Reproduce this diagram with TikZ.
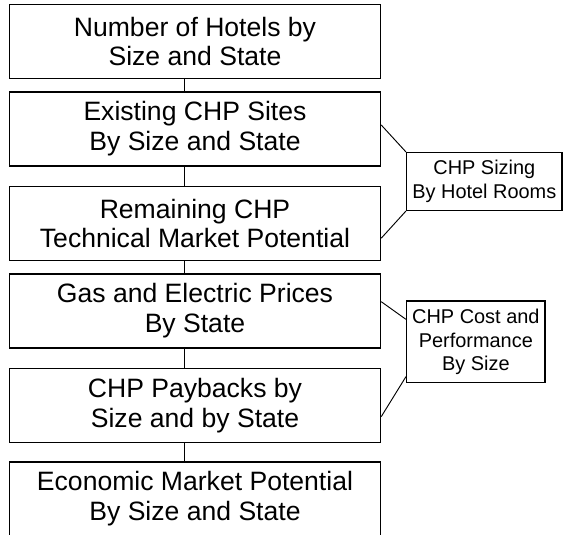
\documentclass[tikz,border=0pt]{standalone}
\usepackage{fontspec}
\setmainfont{Liberation Sans}
\usepackage{tikz}
\usetikzlibrary{positioning, calc}
\tikzset{
    box_step/.style={
        rectangle, draw=black, line width=1.1pt, fill=white,
        minimum width=9.816cm, minimum height=1.958cm, inner sep=0pt,
        align=center, font=\fontsize{20}{22.5}\selectfont
    },
    box_side/.style={
        rectangle, draw=black, line width=1.1pt, fill=white, inner sep=0pt,
        align=center, font=\fontsize{15}{17.6}\selectfont
    },
    link_line/.style={
        draw=black, line width=0.75pt
    },
    callout_line/.style={
        draw=black, line width=0.7pt
    }
}

\begin{document}
\begin{tikzpicture}
    \useasboundingbox (0,0) rectangle (14.896,-14.155);

    % Main column of steps, top to bottom
    \node[box_step] (hotels) at (5.159, -1.098) {Number of Hotels by\\Size and State};
    \node[box_step] (existing) at (5.159, -3.413) {Existing CHP Sites\\By Size and State};
    \node[box_step] (remaining) at (5.159, -5.913) {Remaining CHP\\Technical Market Potential};
    \node[box_step] (prices) at (5.159, -8.228) {Gas and Electric Prices\\By State};
    \node[box_step] (paybacks) at (5.159, -10.729) {CHP Paybacks by\\Size and by State};
    \node[box_step] (economic) at (5.159, -13.203) {Economic Market Potential\\By Size and State};

    % Side inputs
    \node[box_side, minimum width=4.109cm, minimum height=1.524cm] (sizing) at (12.815, -4.802) {CHP Sizing\\By Hotel Rooms};
    \node[box_side, minimum width=3.659cm, minimum height=2.162cm] (costperf) at (12.590, -9.045) {CHP Cost and\\Performance\\By Size};

    % Links between the steps
    \draw[link_line] ([xshift=-0.265cm]hotels.south) -- ([xshift=-0.265cm]existing.north);
    \draw[link_line] ([xshift=-0.265cm]existing.south) -- ([xshift=-0.265cm]remaining.north);
    \draw[link_line] ([xshift=-0.265cm]remaining.south) -- ([xshift=-0.265cm]prices.north);
    \draw[link_line] ([xshift=-0.265cm]prices.south) -- ([xshift=-0.265cm]paybacks.north);
    \draw[link_line] ([xshift=-0.265cm]paybacks.south) -- ([xshift=-0.265cm]economic.north);

    % Brackets from the side inputs
    \draw[callout_line] ([yshift=0.106cm]existing.east) -- (sizing.north west);
    \draw[callout_line] (sizing.south west) -- ([yshift=-0.39cm]remaining.east);
    \draw[callout_line] ([yshift=0.246cm]prices.east) -- ([yshift=0.595cm]costperf.west);
    \draw[callout_line] ([yshift=-0.92cm]costperf.west) -- ([yshift=-0.296cm]paybacks.east);
\end{tikzpicture}
\end{document}
